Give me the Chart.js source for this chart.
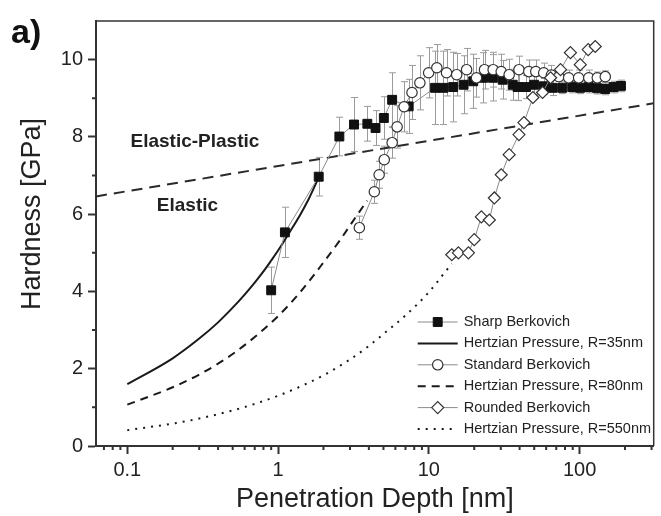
<!DOCTYPE html>
<html>
<head>
<meta charset="utf-8">
<script src="https://cdn.jsdelivr.net/npm/chart.js@4.4.0/dist/chart.umd.min.js"></script>
<style>
  html, body { margin: 0; padding: 0; background: #fff; }
</style>
</head>
<body>
<canvas id="grafica" width="661" height="516"></canvas>
<script>
// valores
const sharpX = [0.90, 1.11, 1.86, 2.55, 3.19, 3.91, 4.43, 5.03, 5.71, 7.35, 11.0, 12.5, 14.5, 17.0, 19.7, 22.9, 26.6, 30.9, 36.0, 38.8, 44.1, 50.0, 58.0, 66.3, 76.8, 89.4, 101, 115, 131, 148, 168, 188];
const sharpY = [4.03, 5.53, 6.97, 8.01, 8.32, 8.34, 8.23, 8.49, 8.96, 8.79, 9.27, 9.27, 9.29, 9.35, 9.44, 9.53, 9.53, 9.48, 9.35, 9.29, 9.29, 9.35, 9.31, 9.27, 9.27, 9.29, 9.27, 9.29, 9.26, 9.24, 9.29, 9.32];
const sharpErr = [0.6, 0.65, 0.5, 0.5, 0.7, 0.45, 0.45, 0.55, 0.7, 0.7, 0.95, 0.95, 0.9, 0.75, 0.7, 0.65, 0.6, 0.5, 0.4, 0.35, 0.3, 0.25, 0.2, 0.2, 0.15, 0.15, 0.15, 0.15, 0.15, 0.15, 0.15, 0.15];

const stdX = [3.46, 4.35, 4.68, 5.06, 5.71, 6.16, 6.85, 7.73, 8.72, 9.97, 11.3, 13.1, 15.3, 17.8, 20.7, 23.4, 26.7, 30.2, 34.1, 39.6, 46.0, 51.2, 57.8, 65.0, 72.8, 84.6, 98.5, 115, 131, 148];
const stdY = [5.65, 6.58, 7.02, 7.41, 7.85, 8.26, 8.78, 9.15, 9.40, 9.66, 9.79, 9.66, 9.61, 9.74, 9.53, 9.74, 9.74, 9.69, 9.61, 9.74, 9.69, 9.69, 9.66, 9.60, 9.56, 9.53, 9.53, 9.53, 9.53, 9.56];
const stdErr = [0.3, 0.3, 0.35, 0.35, 0.4, 0.55, 0.65, 0.7, 0.7, 0.65, 0.6, 0.6, 0.55, 0.55, 0.5, 0.5, 0.45, 0.45, 0.4, 0.35, 0.3, 0.3, 0.25, 0.25, 0.2, 0.2, 0.2, 0.2, 0.15, 0.15];

const rndX = [14.2, 15.7, 18.3, 20.0, 22.3, 25.2, 27.2, 30.2, 34.1, 39.6, 42.7, 49.0, 56.8, 64.2, 74.7, 86.9, 101, 114, 127];
const rndY = [4.95, 5.00, 5.00, 5.34, 5.93, 5.85, 6.42, 7.02, 7.54, 8.06, 8.37, 9.02, 9.15, 9.53, 9.74, 10.18, 9.87, 10.26, 10.34];

// curvas de presión hertziana
const h35X = [0.1, 0.2, 0.3, 0.4, 0.5, 0.6, 0.7, 0.8, 0.9, 1.0, 1.2, 1.4, 1.6, 1.86];
const h35Y = [1.6, 2.27, 2.78, 3.2, 3.58, 3.92, 4.23, 4.52, 4.8, 5.06, 5.55, 5.98, 6.4, 6.95];
const h80X = [0.1, 0.2, 0.3, 0.4, 0.5, 0.7, 1.0, 1.4, 2.0, 2.6, 3.2, 3.9];
const h80Y = [1.07, 1.52, 1.85, 2.13, 2.38, 2.82, 3.36, 3.98, 4.75, 5.35, 5.87, 6.35];
const h550X = [0.1, 0.2, 0.3, 0.5, 0.7, 1.0, 1.5, 2.0, 3.0, 4.0, 5.0, 7.0, 10.0, 12.5, 14.2];
const h550Y = [0.41, 0.58, 0.71, 0.92, 1.09, 1.3, 1.59, 1.83, 2.24, 2.59, 2.9, 3.38, 3.98, 4.45, 4.72];

// límite elástico / elasto-plástico
const limX = [0.062, 310];
const limY = [6.46, 8.87];

const xTicks = [0.1, 1, 10, 100];
const xMinor = [0.07, 0.08, 0.09, 0.2, 0.3, 0.4, 0.5, 0.6, 0.7, 0.8, 0.9, 2, 3, 4, 5, 6, 7, 8, 9, 20, 30, 40, 50, 60, 70, 80, 90, 200, 300];
const yTicks = [0, 2, 4, 6, 8, 10];
const yMinor = [1, 3, 5, 7, 9];

const FUENTE = '"Liberation Sans", Arial, sans-serif';

const pares = (xs, ys) => xs.map((x, i) => ({ x, y: ys[i] }));

// barras de error grises
const barrasError = {
    id: 'barrasError',
    beforeDatasetsDraw(chart) {
        const { ctx, scales: { x, y } } = chart;
        ctx.save();
        ctx.strokeStyle = '#9a9a9a';
        ctx.lineWidth = 1;
        chart.data.datasets.forEach(ds => {
            if (!ds.errores) return;
            ds.data.forEach((p, i) => {
                const e = ds.errores[i];
                const px = Math.round(x.getPixelForValue(p.x)) + 0.5;
                const yt = y.getPixelForValue(p.y + e);
                const yb = y.getPixelForValue(p.y - e);
                ctx.beginPath();
                ctx.moveTo(px, yt); ctx.lineTo(px, yb);
                ctx.moveTo(px - 3.5, yt); ctx.lineTo(px + 3.5, yt);
                ctx.moveTo(px - 3.5, yb); ctx.lineTo(px + 3.5, yb);
                ctx.stroke();
            });
        });
        ctx.restore();
    }
};

// marco, ticks menores, textos y leyenda
const extras = {
    id: 'extras',
    afterDraw(chart) {
        const { ctx, chartArea: a, scales: { x, y } } = chart;
        ctx.save();
        // marco superior y derecho
        ctx.strokeStyle = '#333';
        ctx.lineWidth = 1.5;
        ctx.beginPath();
        ctx.moveTo(a.left, a.top); ctx.lineTo(a.right, a.top); ctx.lineTo(a.right, a.bottom);
        ctx.stroke();

        // ticks menores
        ctx.lineWidth = 2;
        ctx.beginPath();
        xMinor.forEach(v => {
            const px = x.getPixelForValue(v);
            ctx.moveTo(px, a.bottom); ctx.lineTo(px, a.bottom + 4);
        });
        yMinor.forEach(v => {
            const py = y.getPixelForValue(v);
            ctx.moveTo(a.left, py); ctx.lineTo(a.left - 4, py);
        });
        ctx.stroke();

        // título del eje y
        ctx.save();
        ctx.translate(33, 214);
        ctx.rotate(-Math.PI / 2);
        ctx.fillStyle = '#222';
        ctx.font = '27px ' + FUENTE;
        ctx.textAlign = 'center';
        ctx.textBaseline = 'middle';
        ctx.fillText('Hardness [GPa]', 0, 0);
        ctx.restore();

        // textos de las zonas
        ctx.fillStyle = '#222';
        ctx.font = 'bold 19px ' + FUENTE;
        ctx.textBaseline = 'middle';
        ctx.fillText('Elastic-Plastic', x.getPixelForValue(0.105), y.getPixelForValue(7.88));
        ctx.fillText('Elastic', x.getPixelForValue(0.157), y.getPixelForValue(6.22));

        // etiqueta del panel
        ctx.font = 'bold 34px ' + FUENTE;
        ctx.textBaseline = 'alphabetic';
        ctx.fillStyle = '#111';
        ctx.fillText('a)', 11, 43);

        // leyenda
        const x0 = a.right - 236, y0 = a.bottom - 124;
        ctx.font = '14.5px ' + FUENTE;
        ctx.textBaseline = 'middle';
        chart.data.datasets.forEach(ds => {
            if (ds.filaLeyenda === undefined) return;
            const yy = y0 + ds.filaLeyenda * 21.4;
            ctx.beginPath();
            ctx.setLineDash(ds.borderDash || []);
            ctx.strokeStyle = ds.borderColor;
            ctx.lineWidth = ds.borderWidth;
            ctx.moveTo(x0, yy); ctx.lineTo(x0 + 40, yy);
            ctx.stroke();
            ctx.setLineDash([]);
            if (ds.pointRadius > 0) {
                ctx.fillStyle = ds.pointBackgroundColor;
                ctx.strokeStyle = ds.pointBorderColor;
                ctx.lineWidth = ds.pointBorderWidth;
                Chart.helpers.drawPoint(ctx, {
                    pointStyle: ds.pointStyle, radius: ds.pointRadius,
                    borderWidth: ds.pointBorderWidth, rotation: 0
                }, x0 + 20, yy);
            }
            ctx.fillStyle = '#222';
            ctx.fillText(ds.label, x0 + 46, yy);
        });
        ctx.restore();
    }
};

const linea = (label, xs, ys, dash, fila, order) => ({
    label, data: pares(xs, ys), showLine: true, borderColor: '#1a1a1a', borderWidth: 2,
    borderDash: dash, pointRadius: 0, cubicInterpolationMode: 'monotone',
    filaLeyenda: fila, order
});

const ctx = document.getElementById('grafica');
const chart = new Chart(ctx, {
    type: 'scatter',
    data: {
        datasets: [
            {
                label: 'limite', data: pares(limX, limY), showLine: true, borderColor: '#2a2a2a',
                borderWidth: 2, borderDash: [11, 7], pointRadius: 0, order: 9
            },
            linea('Hertzian Pressure, R=35nm', h35X, h35Y, [], 1, 8),
            linea('Hertzian Pressure, R=80nm', h80X, h80Y, [8, 6], 3, 7),
            linea('Hertzian Pressure, R=550nm', h550X, h550Y, [2, 6], 5, 6),
            {
                label: 'Sharp Berkovich', data: pares(sharpX, sharpY), errores: sharpErr,
                showLine: true, borderColor: '#8a8a8a', borderWidth: 1,
                pointStyle: 'rect', pointRadius: 6.3, pointBackgroundColor: '#111',
                pointBorderColor: '#111', pointBorderWidth: 1, filaLeyenda: 0, order: 3
            },
            {
                label: 'Standard Berkovich', data: pares(stdX, stdY), errores: stdErr,
                showLine: true, borderColor: '#8a8a8a', borderWidth: 1,
                pointStyle: 'circle', pointRadius: 5.2, pointBackgroundColor: '#fff',
                pointBorderColor: '#333', pointBorderWidth: 1.2, filaLeyenda: 2, order: 2
            },
            {
                label: 'Rounded Berkovich', data: pares(rndX, rndY),
                showLine: true, borderColor: '#8a8a8a', borderWidth: 1,
                pointStyle: 'rectRot', pointRadius: 6, pointBackgroundColor: '#fff',
                pointBorderColor: '#333', pointBorderWidth: 1.2, filaLeyenda: 4, order: 1
            }
        ]
    },
    options: {
        responsive: false,
        animation: false,
        layout: { padding: { top: 21, right: 2, left: 0, bottom: 0 } },
        plugins: { legend: { display: false }, tooltip: { enabled: false } },
        scales: {
            x: {
                type: 'logarithmic', min: 0.062, max: 310,
                afterBuildTicks: s => { s.ticks = xTicks.map(v => ({ value: v })); },
                afterFit: s => { s.height = 70; },
                ticks: {
                    autoSkip: false, maxRotation: 0, padding: 4, color: '#222',
                    font: { size: 20, family: FUENTE },
                    callback: v => String(v)
                },
                grid: { drawOnChartArea: false, tickLength: 8, tickColor: '#333', tickWidth: 2 },
                border: { color: '#333', width: 2 },
                title: {
                    display: true, text: 'Penetration Depth [nm]', color: '#222',
                    font: { size: 27, family: FUENTE }, padding: { top: 0, bottom: 0 }
                }
            },
            y: {
                min: 0, max: 11,
                afterBuildTicks: s => { s.ticks = yTicks.map(v => ({ value: v })); },
                afterFit: s => { s.width = 96; },
                ticks: { padding: 5, color: '#222', font: { size: 20, family: FUENTE } },
                grid: { drawOnChartArea: false, tickLength: 8, tickColor: '#333', tickWidth: 2 },
                border: { color: '#333', width: 2 }
            }
        }
    },
    plugins: [barrasError, extras]
});
</script>
</body>
</html>
